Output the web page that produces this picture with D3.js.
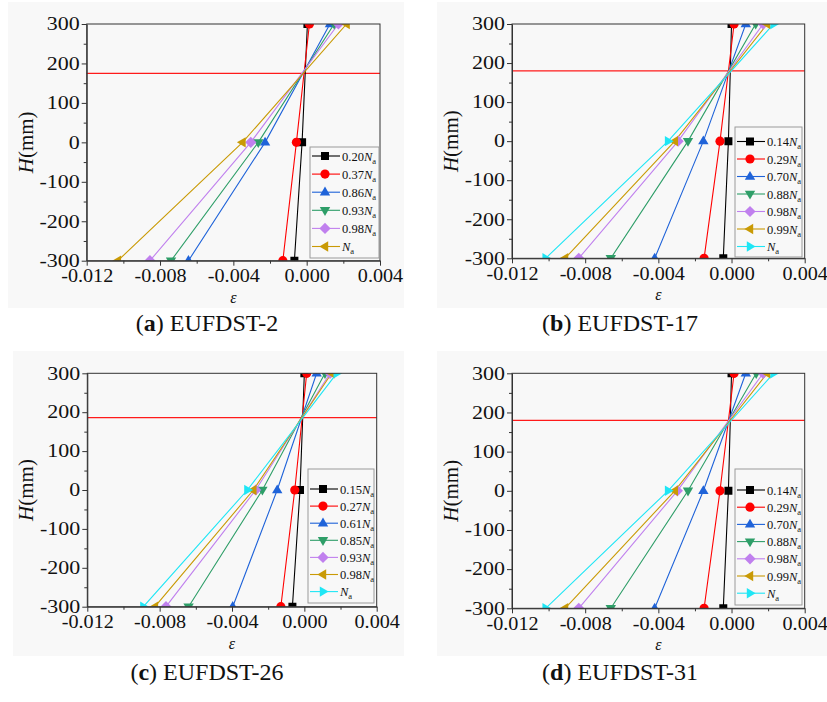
<!DOCTYPE html>
<html>
<head>
<meta charset="utf-8">
<script src="https://cdn.jsdelivr.net/npm/d3@7"></script>
<style>
  body { margin: 0; background: #ffffff; }
  text { font-family: "Liberation Serif", "Times New Roman", serif; fill: #111; }
</style>
</head>
<body>
<svg id="fig" width="827" height="702"></svg>
<script>
// Section heights (mm) at which strain was measured
const heights = [300, 0, -300];

// Axis ticks
const xMajorTicks = [-0.012, -0.008, -0.004, 0.000, 0.004];
const xMinorTicks = [-0.010, -0.006, -0.002, 0.002];
const yMajorTicks = [300, 200, 100, 0, -100, -200, -300];
const yMinorTicks = [250, 150, 50, -50, -150, -250];

// (a) EUFDST-2: load levels and strain at H = 300, 0, -300
const loadsA = ["0.20", "0.37", "0.86", "0.93", "0.98", ""];
const strainA = [
  [0.00004, -0.00025, -0.00067],
  [0.00015, -0.00056, -0.00130],
  [0.00127, -0.00227, -0.00645],
  [0.00150, -0.00264, -0.00740],
  [0.00173, -0.00305, -0.00855],
  [0.00218, -0.00350, -0.01030]
];
const neutralA = 175;

// (b) EUFDST-17
const loadsB = ["0.14", "0.29", "0.70", "0.88", "0.98", "0.99", ""];
const strainB = [
  [0.00000, -0.00017, -0.00045],
  [0.00014, -0.00063, -0.00150],
  [0.00078, -0.00154, -0.00420],
  [0.00132, -0.00238, -0.00660],
  [0.00173, -0.00292, -0.00835],
  [0.00195, -0.00310, -0.00910],
  [0.00230, -0.00347, -0.01016]
];
const neutralB = 180;

// (c) EUFDST-26
const loadsC = ["0.15", "0.27", "0.61", "0.85", "0.93", "0.98", ""];
const strainC = [
  [0.00000, -0.00024, -0.00066],
  [0.00013, -0.00053, -0.00130],
  [0.00068, -0.00150, -0.00396],
  [0.00114, -0.00232, -0.00640],
  [0.00142, -0.00269, -0.00765],
  [0.00151, -0.00282, -0.00826],
  [0.00179, -0.00315, -0.00890]
];
const neutralC = 186;

// (d) EUFDST-31
const loadsD = ["0.14", "0.29", "0.70", "0.88", "0.98", "0.99", ""];
const strainD = [
  [0.00000, -0.00017, -0.00045],
  [0.00014, -0.00063, -0.00150],
  [0.00078, -0.00154, -0.00420],
  [0.00135, -0.00238, -0.00660],
  [0.00173, -0.00296, -0.00835],
  [0.00195, -0.00310, -0.00910],
  [0.00230, -0.00347, -0.01016]
];
const neutralD = 180;

const captionLetters = ["a", "b", "c", "d"];
const captionNames = ["EUFDST-2", "EUFDST-17", "EUFDST-26", "EUFDST-31"];

// Series styling (by order within each panel)
const seriesColors = ["#000000", "#ff0000", "#1f63d9", "#2e9e68", "#c080ee", "#c99a05", "#1fe6f5"];
const seriesShapes = ["square", "circle", "up", "down", "diamond", "left", "right"];

function shapePath(kind) {
  switch (kind) {
    case "square":  return "M-4,-4H4V4H-4Z";
    case "circle":  return "M4.6,0A4.6,4.6 0 1,1 -4.6,0A4.6,4.6 0 1,1 4.6,0Z";
    case "up":      return "M0,-5.6L5.2,3.2L-5.2,3.2Z";
    case "down":    return "M0,5.6L5.2,-3.2L-5.2,-3.2Z";
    case "diamond": return "M0,-5.6L5.6,0L0,5.6L-5.6,0Z";
    case "left":    return "M-5.6,0L3.2,-5.2L3.2,5.2Z";
    case "right":   return "M5.6,0L-3.2,-5.2L-3.2,5.2Z";
  }
}

const fmt = v => (v === 0 ? "0.000" : d3.format(".3f")(v).replace("\u2212", "-"));

// Panel layout
const panels = [
  { loads: loadsA, strain: strainA, neutral: neutralA,
    bg: [8, 2, 396, 306], plot: [86.7, 380, 24, 260.7],
    legend: { x: 310, y: 147, w: 69, h: 111, first: 156, step: 18.1 },
    caption: [207, 331] },
  { loads: loadsB, strain: strainB, neutral: neutralB,
    bg: [437, 2, 390, 306], plot: [512, 804.7, 24, 258.3],
    legend: { x: 735, y: 127, w: 67, h: 130, first: 141.5, step: 17.5 },
    caption: [620, 331] },
  { loads: loadsC, strain: strainC, neutral: neutralC,
    bg: [13, 351, 391, 305], plot: [87.3, 376.7, 373.3, 606.7],
    legend: { x: 308, y: 469, w: 66, h: 134, first: 489, step: 17.1 },
    caption: [207, 680] },
  { loads: loadsD, strain: strainD, neutral: neutralD,
    bg: [437, 351, 390, 305], plot: [512, 804.7, 373.3, 608.3],
    legend: { x: 735, y: 469, w: 67, h: 136, first: 490, step: 17.2 },
    caption: [620, 680] }
];

const svg = d3.select("#fig");

// Widen tick/axis glyphs horizontally
function stretch(sel, k) {
  sel.each(function () {
    const len = this.getComputedTextLength();
    d3.select(this).attr("textLength", len * k).attr("lengthAdjust", "spacingAndGlyphs");
  });
}

panels.forEach((p, i) => {
  const [x0, x1, y0, y1] = p.plot;
  const x = d3.scaleLinear().domain([-0.012, 0.004]).range([x0, x1]);
  const y = d3.scaleLinear().domain([-300, 300]).range([y1, y0]);

  svg.append("rect")
    .attr("x", p.bg[0]).attr("y", p.bg[1]).attr("width", p.bg[2]).attr("height", p.bg[3])
    .attr("fill", "#f8f8f8");

  const g = svg.append("g");

  const clipId = "clip" + i;
  svg.append("clipPath").attr("id", clipId)
    .append("rect").attr("x", x0).attr("y", y0).attr("width", x1 - x0).attr("height", y1 - y0);

  // Neutral axis line
  g.append("line")
    .attr("x1", x0).attr("x2", x1)
    .attr("y1", y(p.neutral)).attr("y2", y(p.neutral))
    .attr("stroke", "#ff1a1a").attr("stroke-width", 1.2);

  // Strain profiles
  const line = d3.line().x(d => x(d[0])).y(d => y(d[1]));
  const plotG = g.append("g").attr("clip-path", `url(#${clipId})`);
  p.strain.forEach((vals, s) => {
    const pts = vals.map((v, k) => [v, heights[k]]);
    plotG.append("path")
      .attr("d", line(pts))
      .attr("fill", "none")
      .attr("stroke", seriesColors[s])
      .attr("stroke-width", 1.1);
  });
  p.strain.forEach((vals, s) => {
    vals.forEach((v, k) => {
      plotG.append("path")
        .attr("d", shapePath(seriesShapes[s]))
        .attr("transform", `translate(${x(v)},${y(heights[k])})`)
        .attr("fill", seriesColors[s]);
    });
  });

  // Axes
  const xAxis = g.append("g").attr("transform", `translate(0,${y1})`)
    .call(d3.axisBottom(x).tickValues(xMajorTicks).tickFormat(fmt).tickSize(5).tickPadding(4).tickSizeOuter(0));
  g.append("g").attr("transform", `translate(0,${y1})`)
    .call(d3.axisBottom(x).tickValues(xMinorTicks).tickFormat("").tickSize(3).tickSizeOuter(0))
    .select(".domain").remove();
  const yAxis = g.append("g").attr("transform", `translate(${x0},0)`)
    .call(d3.axisLeft(y).tickValues(yMajorTicks).tickFormat(d => String(d)).tickSize(5).tickPadding(2).tickSizeOuter(0));
  g.append("g").attr("transform", `translate(${x0},0)`)
    .call(d3.axisLeft(y).tickValues(yMinorTicks).tickFormat("").tickSize(3).tickSizeOuter(0))
    .select(".domain").remove();

  g.selectAll(".tick line").attr("stroke", "#333");
  g.selectAll(".domain").attr("stroke", "#333");
  [xAxis, yAxis].forEach(a => a.selectAll("text")
    .attr("font-family", "Liberation Serif, serif")
    .attr("font-size", 18)
    .attr("fill", "#111"));
  stretch(xAxis.selectAll("text"), 1.12);
  stretch(yAxis.selectAll("text"), 1.22);

  // Frame
  g.append("rect")
    .attr("x", x0).attr("y", y0).attr("width", x1 - x0).attr("height", y1 - y0)
    .attr("fill", "none").attr("stroke", "#333").attr("stroke-width", 1);

  // Axis titles
  g.append("text")
    .attr("x", (x0 + x1) / 2).attr("y", y1 + 42)
    .attr("text-anchor", "middle")
    .attr("font-size", 16).attr("font-style", "italic")
    .text("ε");

  const yt = g.append("text")
    .attr("transform", `translate(${x0 - 54},${(y0 + y1) / 2}) rotate(-90)`)
    .attr("text-anchor", "middle")
    .attr("font-size", 21);
  yt.append("tspan").attr("font-style", "italic").text("H");
  yt.append("tspan").text("(mm)");

  // Legend
  const L = p.legend;
  const lg = g.append("g");
  lg.append("rect")
    .attr("x", L.x).attr("y", L.y).attr("width", L.w).attr("height", L.h)
    .attr("fill", "none").attr("stroke", "#9a9a9a").attr("stroke-width", 1);
  p.loads.forEach((ld, s) => {
    const ry = L.first + s * L.step;
    lg.append("line")
      .attr("x1", L.x + 2).attr("x2", L.x + 30)
      .attr("y1", ry).attr("y2", ry)
      .attr("stroke", seriesColors[s]).attr("stroke-width", 1.1);
    lg.append("path")
      .attr("d", shapePath(seriesShapes[s]))
      .attr("transform", `translate(${L.x + 15},${ry})`)
      .attr("fill", seriesColors[s]);
    const t = lg.append("text")
      .attr("x", L.x + 32).attr("y", ry + 4.5)
      .attr("font-size", 12.5);
    if (ld) t.append("tspan").text(ld);
    t.append("tspan").attr("font-style", "italic").text("N");
    t.append("tspan").attr("font-size", 8.5).attr("dy", 3).text("a");
  });

  // Caption
  const c = svg.append("text")
    .attr("x", p.caption[0]).attr("y", p.caption[1])
    .attr("text-anchor", "middle")
    .attr("font-size", 24);
  c.append("tspan").text("(");
  c.append("tspan").attr("font-weight", "bold").text(captionLetters[i]);
  c.append("tspan").text(") " + captionNames[i]);
});
</script>
</body>
</html>
